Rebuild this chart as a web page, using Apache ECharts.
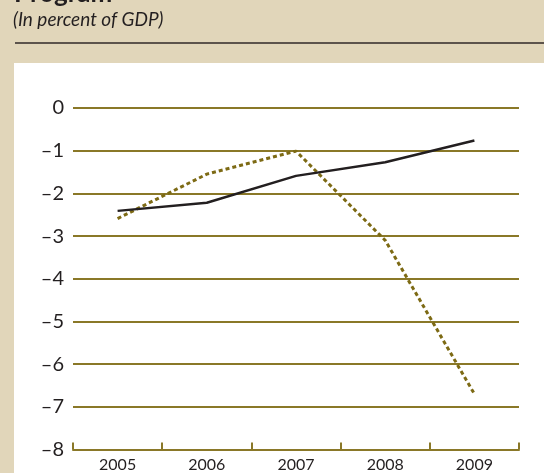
<!DOCTYPE html>
<html>
<head>
<meta charset="utf-8">
<script src="https://cdn.jsdelivr.net/npm/echarts@6/dist/echarts.min.js"></script>
<style>
  html, body { margin: 0; padding: 0; background: #e1d6ba; }
  #chart { width: 544px; height: 473px; }
</style>
</head>
<body>
<div id="chart"></div>
<script>
// Fiscal balance, 2005–2009
const years = ['2005', '2006', '2007', '2008', '2009'];
const solidSeries = [-2.41, -2.22, -1.59, -1.27, -0.76];
const dottedSeries = [-2.59, -1.55, -1.01, -3.1, -6.7];
const yTicks = [0, -1, -2, -3, -4, -5, -6, -7, -8];

const olive = '#8a7828';
const font = 'Lato, "Open Sans", sans-serif';

const chart = echarts.init(document.getElementById('chart'), null, { renderer: 'canvas' });

chart.setOption({
  backgroundColor: '#e1d6ba',
  animation: false,
  graphic: [
    // white plot panel
    { type: 'rect', shape: { x: 14, y: 63, width: 530, height: 410 }, style: { fill: '#ffffff' }, z: -10 },
    // rule under the heading
    { type: 'rect', shape: { x: 15, y: 42, width: 529, height: 2 }, style: { fill: '#5c544c' } },
    { type: 'text', left: 14, top: -19, style: { text: 'Program', font: 'bold 26px ' + font, fill: '#231f20' } },
    { type: 'text', left: 13, top: 10, style: { text: '(In percent of GDP)', font: 'italic 19px ' + font, fill: '#231f20' } }
  ],
  grid: { left: 73, right: 25, top: 108, bottom: 23.5, containLabel: false },
  xAxis: {
    type: 'category',
    data: years,
    boundaryGap: true,
    axisLine: { show: true, onZero: false, lineStyle: { color: olive, width: 2 } },
    axisTick: { show: true, inside: true, length: 7, lineStyle: { color: olive, width: 2 } },
    axisLabel: { color: '#231f20', fontSize: 16, fontFamily: font, margin: 7 },
    splitLine: { show: false }
  },
  yAxis: {
    type: 'value',
    min: -8,
    max: 0,
    interval: 1,
    axisLine: { show: false },
    axisTick: { show: false },
    axisLabel: {
      color: '#231f20', fontSize: 20, fontFamily: font, margin: 9,
      formatter: v => (yTicks.includes(v) ? String(v).replace('-', '\u2013') : '')
    },
    splitLine: { show: true, lineStyle: { color: olive, width: 2 } }
  },
  series: [
    {
      type: 'line',
      data: solidSeries,
      symbol: 'none',
      lineStyle: { color: '#231f20', width: 2.5 },
      z: 3
    },
    {
      type: 'line',
      data: dottedSeries,
      symbol: 'none',
      lineStyle: { color: '#7d6a14', width: 3, type: [4, 3] },
      z: 2
    }
  ]
});
</script>
</body>
</html>
